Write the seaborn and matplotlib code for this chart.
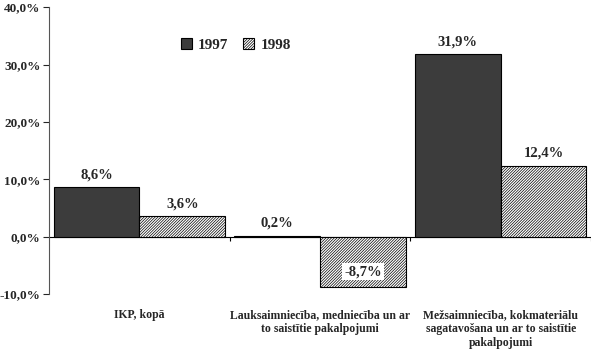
import matplotlib
matplotlib.use("Agg")
import matplotlib.pyplot as plt
import seaborn as sns
import pandas as pd
from matplotlib.patches import Patch

categories = ["IKP, kopā",
              "Lauksaimniecība, medniecība un ar\nto saistītie pakalpojumi",
              "Mežsaimniecība, kokmateriālu\nsagatavošana un ar to saistītie\npakalpojumi"]
years = ["1997", "1998"]
values_1997 = [8.6, 0.2, 31.9]
values_1998 = [3.6, -8.7, 12.4]
yticks = [-10, 0, 10, 20, 30, 40]

sns.set_theme(style="white")
plt.rcParams['font.family'] = ['Liberation Serif', 'DejaVu Serif']
plt.rcParams['hatch.linewidth'] = 0.5

df = pd.DataFrame({
    "cat": categories * 2,
    "year": [years[0]] * 3 + [years[1]] * 3,
    "val": values_1997 + values_1998,
})

fig = plt.figure(figsize=(6, 3.56), dpi=100)
ax = fig.add_axes([0.0817, 0.174, 0.985 - 0.0817, 0.980 - 0.174])

dark = "#3c3c3c"
hatch = "/" * 12
colors = {"1997": dark, "1998": "white"}
sns.barplot(data=df, x="cat", y="val", hue="year", palette=colors,
            width=0.95, gap=0, ax=ax, legend=False, edgecolor="black",
            linewidth=0.8, errorbar=None)

for c, patch_cont in enumerate(ax.containers):
    for p in patch_cont:
        if c == 1:
            p.set_hatch(hatch)
            p.set_facecolor("white")
        p.set_edgecolor("black")

# labels
for c, (cont, vals) in enumerate(zip(ax.containers, [values_1997, values_1998])):
    for p, v in zip(cont, vals):
        x = p.get_x() + p.get_width() / 2
        txt = f"{v:.1f}%".replace(".", ",")
        if v >= 0:
            ax.annotate(txt, (x, v), xytext=(0, 4), textcoords="offset points",
                        ha="center", va="bottom", fontsize=10.5, fontweight="bold")
        else:
            ax.annotate(txt, (x, v), xytext=(0, 6), textcoords="offset points",
                        ha="center", va="bottom", fontsize=10.5, fontweight="bold",
                        bbox=dict(facecolor="white", edgecolor="none", pad=1.5))

ax.set_xlim(-0.5, 2.5)
ax.set_ylim(-10, 40)
ax.set_yticks(yticks)
ax.set_yticklabels([f"{t:.1f}%".replace(".", ",") for t in yticks],
                   fontsize=9.5, fontweight="bold")
ax.tick_params(axis="y", direction="out", length=4, width=0.8, left=True, pad=2)
ax.set_xticks(range(len(categories)))
ax.set_xticklabels(categories, fontsize=8.5, fontweight="bold", linespacing=1.2)
ax.tick_params(axis="x", length=0, pad=11)
ax.set_xlabel("")
ax.set_ylabel("")

for s in ["top", "right", "bottom"]:
    ax.spines[s].set_visible(False)
ax.spines["left"].set_color("#555555")
ax.spines["left"].set_linewidth(0.8)
ax.axhline(0, color="black", lw=0.8, zorder=0.5)
ax.vlines([0.5, 1.5, 2.5], -0.7, 0, color="black", lw=0.8)

handles = [Patch(facecolor=dark, edgecolor="black", linewidth=0.8),
           Patch(facecolor="white", edgecolor="black", hatch=hatch, linewidth=0.8)]
fig.legend(handles, years, loc="center", bbox_to_anchor=(0.393, 0.874),
           ncol=2, frameon=False, handlelength=0.7, handleheight=0.7,
           handletextpad=0.4, columnspacing=1.0,
           prop={"size": 11, "weight": "bold"})

fig.savefig("out.png", dpi=100)
